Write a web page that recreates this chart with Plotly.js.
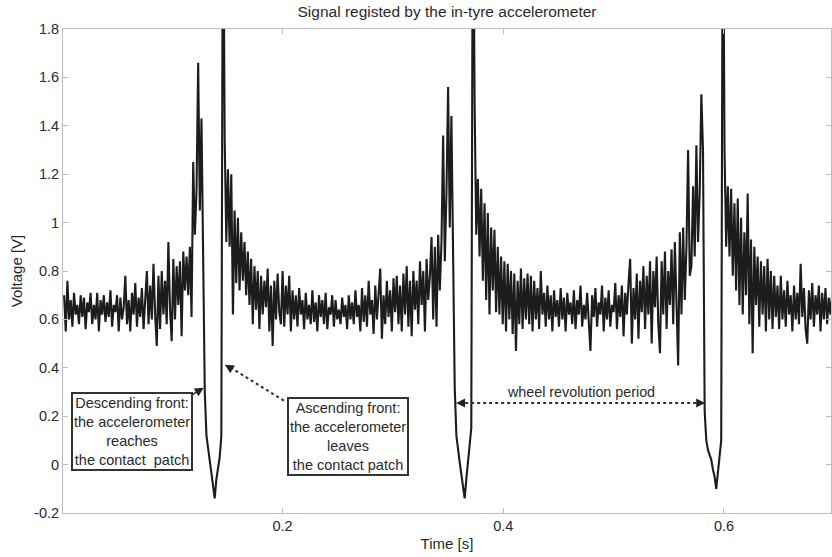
<!DOCTYPE html>
<html><head><meta charset="utf-8">
<script src="https://cdn.plot.ly/plotly-3.0.1.min.js"></script>
<style>html,body{margin:0;padding:0;background:#fff}#chart{width:832px;height:557px}</style>
</head><body><div id="chart"></div>
<script>
// sampling of the recorded signal (s)
const sampleStart = 0.002;
const sampleStep = 0.0015;

// voltage samples [V]
const voltage = [
0.70,0.55,0.76,0.60,0.68,0.57,0.71,0.62,0.66,0.58,
0.70,0.61,0.69,0.56,0.67,0.63,0.71,0.58,0.66,0.60,
0.71,0.55,0.68,0.62,0.70,0.59,0.67,0.61,0.72,0.57,
0.66,0.63,0.70,0.55,0.69,0.60,0.65,0.78,0.58,0.68,
0.55,0.71,0.62,0.75,0.57,0.69,0.61,0.73,0.56,0.70,
0.80,0.58,0.74,0.60,0.83,0.62,0.49,0.78,0.56,0.80,
0.62,0.76,0.58,0.92,0.64,0.51,0.85,0.60,0.82,0.66,
0.84,0.53,0.88,0.72,0.86,0.70,0.90,0.61,1.25,0.95,
1.13,1.66,1.05,1.43,0.90,
0.30,0.12,0.07,0.02,-0.04,-0.10,-0.14,-0.06,-0.01,0.03,0.12,2.60,
1.35,0.92,1.22,0.90,1.20,0.62,1.05,0.75,1.02,0.72,
0.96,0.76,0.92,0.70,0.88,0.66,0.85,0.58,0.82,0.64,
0.80,0.56,0.78,0.62,0.76,0.65,0.81,0.55,0.74,0.49,
0.76,0.60,0.79,0.63,
0.58,0.80,0.57,0.74,0.62,0.78,0.55,0.72,0.60,0.70,
0.57,0.73,0.62,0.68,0.56,0.71,0.60,0.66,0.58,0.72,
0.59,0.67,0.55,0.70,0.61,0.68,0.58,0.71,0.56,0.65,
0.62,0.70,0.57,0.68,0.60,0.64,0.58,0.69,0.61,0.66,
0.56,0.70,0.60,0.67,0.58,0.72,0.61,0.66,0.55,0.73,
0.59,0.70,0.57,0.76,0.62,0.68,0.54,0.74,0.60,0.71,
0.81,0.52,0.70,0.58,0.76,0.61,0.72,0.55,0.77,0.63,
0.78,0.58,0.74,0.55,0.79,0.62,0.82,0.57,0.76,0.53,
0.80,0.64,0.76,0.58,0.84,0.66,0.80,0.55,0.85,0.68,
0.78,0.94,0.60,0.90,0.57,0.95,0.72,0.92,1.36,0.84,
1.12,1.56,0.98,1.44,0.88,
0.32,0.12,0.05,0.01,-0.04,-0.09,-0.14,-0.06,0.00,0.08,0.15,2.60,
1.50,0.95,1.18,0.86,1.14,0.76,1.08,0.68,1.04,0.62,
0.98,0.72,0.97,0.63,0.90,0.62,0.86,0.58,0.84,0.55,
0.83,0.60,0.80,0.54,0.79,0.47,0.76,0.58,0.81,0.56,
0.77,0.60,0.79,
0.58,0.78,0.55,0.76,0.60,0.73,0.56,0.80,0.62,0.71,
0.57,0.74,0.60,0.70,0.55,0.72,0.61,0.68,0.57,0.73,
0.60,0.69,0.55,0.71,0.62,0.67,0.58,0.72,0.56,0.68,
0.62,0.74,0.57,0.66,0.60,0.71,0.58,0.47,0.70,0.61,
0.73,0.57,0.67,0.62,0.74,0.55,0.69,0.60,0.72,0.57,
0.66,0.63,0.75,0.56,0.70,0.61,0.74,0.53,0.71,0.62,
0.75,0.85,0.50,0.73,0.60,0.79,0.52,0.76,0.63,0.82,
0.56,0.78,0.62,0.84,0.50,0.80,0.65,0.86,0.58,0.46,
0.84,0.62,0.88,0.56,0.80,0.66,0.89,0.58,0.92,0.64,
0.41,0.96,0.62,0.98,0.68,0.90,1.30,0.78,0.82,1.15,
0.86,1.32,0.92,1.12,1.53,1.30,
0.22,0.10,0.06,0.04,0.02,-0.02,-0.05,-0.10,-0.04,0.02,0.10,2.60,
1.30,0.90,1.15,0.86,1.14,0.78,1.08,0.72,1.10,0.66,
1.02,0.62,0.96,0.70,1.12,0.58,0.93,0.46,0.90,0.66,
0.86,0.57,0.84,0.62,0.82,0.55,0.85,0.60,0.80,0.56,
0.78,0.61,
0.74,0.56,0.78,0.60,0.72,0.57,0.76,0.62,0.70,0.55,
0.74,0.60,0.71,0.58,0.83,0.61,0.73,0.56,0.50,0.72,
0.60,0.75,0.57,0.70,0.62,0.74,0.55,0.71,0.60,0.73,
0.58,0.69,0.62,0.70
];

const yTickVals = [-0.2,0,0.2,0.4,0.6,0.8,1,1.2,1.4,1.6,1.8];
const yTickText = ['-0.2','0','0.2','0.4','0.6','0.8','1','1.2','1.4','1.6','1.8'];
const xTickVals = [0.2,0.4,0.6];
const xTickText = ['0.2','0.4','0.6'];

const titleText = 'Signal registed by the in-tyre accelerometer';
const xTitle = 'Time [s]';
const yTitle = 'Voltage [V]';
const noteDescending = 'Descending front:<br>the accelerometer<br>reaches<br>the contact\u00a0 patch';
const noteAscending = 'Ascending front:<br>the accelerometer<br>leaves<br>the contact patch';
const notePeriod = 'wheel revolution period';

const FONT = 'Liberation Sans, Arial, Helvetica, sans-serif';
const TXT = '#2a2a2a';
const AX = '#bdbdbd';

const trace = {
  type: 'scatter', mode: 'lines',
  x0: sampleStart, dx: sampleStep, y: voltage,
  line: {color: '#1c1c1c', width: 2.1},
  hoverinfo: 'skip'
};

const axisCommon = {
  showline: true, linecolor: AX, linewidth: 1, mirror: 'ticks',
  ticks: 'inside', ticklen: 5, tickcolor: AX, tickwidth: 1,
  showgrid: false, zeroline: false,
  tickfont: {family: FONT, size: 14.5, color: TXT}
};

const layout = {
  width: 832, height: 557,
  margin: {l: 63, r: 1, t: 29, b: 44},
  paper_bgcolor: '#ffffff', plot_bgcolor: '#ffffff',
  showlegend: false,
  font: {family: FONT, color: TXT},
  title: {text: titleText, font: {family: FONT, size: 15.5, color: TXT},
          x: 0.5, xref: 'paper', xanchor: 'center', y: 1 - 12/557, yref: 'container', yanchor: 'middle'},
  xaxis: Object.assign({}, axisCommon, {
    range: [0.001, 0.697], tickvals: xTickVals, ticktext: xTickText,
    title: {text: xTitle, font: {family: FONT, size: 15, color: TXT}, standoff: 5}
  }),
  yaxis: Object.assign({}, axisCommon, {
    range: [-0.2, 1.8], tickvals: yTickVals, ticktext: yTickText,
    title: {text: yTitle, font: {family: FONT, size: 15, color: TXT}, standoff: 7}
  }),
  shapes: [
    {type: 'line', xref: 'x', yref: 'y', x0: 0.2012, y0: 0.264, x1: 0.150, y1: 0.409,
     line: {color: '#333', width: 2, dash: 'dot'}},
    {type: 'line', xref: 'x', yref: 'y', x0: 0.3600, y0: 0.2545, x1: 0.5800, y1: 0.2545,
     line: {color: '#333', width: 2, dash: 'dot'}}
  ],
  annotations: [
    {x: 0.1286, y: 0.318, xref: 'x', yref: 'y', ax: -72, ay: 43.5,
     text: noteDescending, showarrow: true, arrowhead: 2, arrowsize: 1.2, arrowwidth: 1.5, arrowcolor: '#222',
     font: {family: FONT, size: 14.5, color: TXT}, align: 'center',
     bordercolor: '#333', borderwidth: 2, borderpad: 1, bgcolor: 'rgba(255,255,255,0)'},
    {x: 0.2595, y: 0.115, xref: 'x', yref: 'y', showarrow: false,
     text: noteAscending, font: {family: FONT, size: 14.5, color: TXT}, align: 'center',
     bordercolor: '#333', borderwidth: 2, borderpad: 1, bgcolor: 'rgba(255,255,255,0)'},
    {x: 0.1477, y: 0.413, xref: 'x', yref: 'y', ax: 8.5, ay: 5.2, text: '',
     showarrow: true, arrowhead: 2, arrowsize: 1.2, arrowwidth: 1.5, arrowcolor: '#222'},
    {x: 0.3572, y: 0.2545, xref: 'x', yref: 'y', ax: 10, ay: 0, text: '',
     showarrow: true, arrowhead: 2, arrowsize: 1.2, arrowwidth: 1.5, arrowcolor: '#222'},
    {x: 0.5830, y: 0.2545, xref: 'x', yref: 'y', ax: -10, ay: 0, text: '',
     showarrow: true, arrowhead: 2, arrowsize: 1.2, arrowwidth: 1.5, arrowcolor: '#222'},
    {x: 0.4706, y: 0.301, xref: 'x', yref: 'y', showarrow: false,
     text: notePeriod, font: {family: FONT, size: 14.3, color: TXT}}
  ]
};

Plotly.newPlot('chart', [trace], layout, {staticPlot: true, displayModeBar: false});
</script>
</body></html>
